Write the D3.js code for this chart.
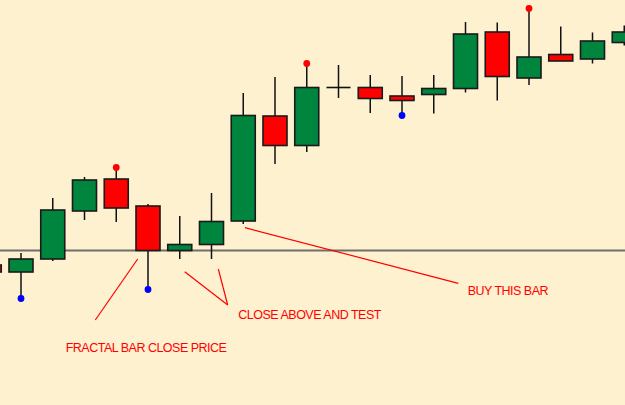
<!DOCTYPE html>
<html>
<head>
<meta charset="utf-8">
<script src="https://cdn.jsdelivr.net/npm/d3@7"></script>
<style>
  html, body { margin: 0; padding: 0; background: #fef1cf; overflow: hidden; }
  svg { display: block; }
</style>
</head>
<body>
<svg id="chart" width="625" height="405"></svg>
<script>
// ---- data (bar index, OHLC) ----
const bars   = [-1, 0, 1, 2, 3, 4, 5, 6, 7, 8, 9, 10, 11, 12, 13, 14, 15, 16, 17, 18, 19];
const opens  = [1.3140, 1.3133, 1.3146, 1.3194, 1.3226, 1.3199, 1.31545, 1.31605, 1.3184, 1.3289, 1.32595, 1.33175, 1.33175, 1.3309, 1.33105, 1.33165, 1.3373, 1.3327, 1.33505, 1.3346, 1.33625];
const highs  = [1.3144, 1.3152, 1.3207, 1.3228, 1.3235, 1.3201, 1.3189, 1.3212, 1.3312, 1.3328, 1.3339, 1.3340, 1.3330, 1.3329, 1.3330, 1.3383, 1.33825, 1.3394, 1.33785, 1.33725, 1.33795];
const lows   = [1.3128, 1.3109, 1.3144, 1.3185, 1.3183, 1.3118, 1.3146, 1.3146, 1.3181, 1.3241, 1.3253, 1.3307, 1.3292, 1.3292, 1.32915, 1.33125, 1.33045, 1.3320, 1.3344, 1.33415, 1.33595];
const closes = [1.3133, 1.3146, 1.3195, 1.3225, 1.3197, 1.31545, 1.31605, 1.31835, 1.32895, 1.32595, 1.33175, 1.33175, 1.33065, 1.33045, 1.33165, 1.3371, 1.33285, 1.3348, 1.3344, 1.3364, 1.3373];
const fractalsUp   = [3, 9, 16];
const fractalsDown = [0, 4, 12];
const fractalBar = 4;   // the level line sits at this bar's close
const labels = ["FRACTAL BAR CLOSE PRICE", "CLOSE ABOVE AND TEST", "BUY THIS BAR"];

// ---- layout ----
const W = 625, H = 405;
const svg = d3.select("#chart");
svg.append("rect").attr("width", W).attr("height", H).attr("fill", "#fef1cf");

const x = d3.scaleLinear().domain([0, 19]).range([21, 624.25]);
const y = d3.scaleLinear().domain([1.3000, 1.3405]).range([405, 0]);
const bodyW = 24;
const GREEN = "#00853e", RED = "#ff0000";

const data = bars.map((b, i) => ({ b, o: opens[i], h: highs[i], l: lows[i], c: closes[i] }));

// level line
svg.append("line")
  .attr("x1", 0).attr("x2", W)
  .attr("y1", y(closes[bars.indexOf(fractalBar)])).attr("y2", y(closes[bars.indexOf(fractalBar)]))
  .attr("stroke", "#6e6e6e").attr("stroke-width", 2);

const g = svg.append("g");
// wicks
g.selectAll("line.wick").data(data).join("line")
  .attr("class", "wick")
  .attr("x1", d => x(d.b)).attr("x2", d => x(d.b))
  .attr("y1", d => y(d.h)).attr("y2", d => y(d.l))
  .attr("stroke", "#111").attr("stroke-width", 1.5);

// bodies
g.selectAll("rect.body").data(data.filter(d => d.o !== d.c)).join("rect")
  .attr("class", "body")
  .attr("x", d => x(d.b) - bodyW / 2)
  .attr("width", bodyW)
  .attr("y", d => y(Math.max(d.o, d.c)))
  .attr("height", d => Math.abs(y(d.o) - y(d.c)))
  .attr("fill", d => d.c > d.o ? GREEN : RED)
  .attr("stroke", "#1a1a1a").attr("stroke-width", 1.6);

// doji
g.selectAll("line.doji").data(data.filter(d => d.o === d.c)).join("line")
  .attr("class", "doji")
  .attr("x1", d => x(d.b) - bodyW / 2).attr("x2", d => x(d.b) + bodyW / 2)
  .attr("y1", d => y(d.o)).attr("y2", d => y(d.o))
  .attr("stroke", "#111").attr("stroke-width", 1.6);

// fractal dots
g.selectAll("circle.up").data(fractalsUp).join("circle")
  .attr("cx", b => x(b)).attr("cy", b => y(highs[bars.indexOf(b)]) - 2.5)
  .attr("r", 3.4).attr("fill", RED);
g.selectAll("circle.dn").data(fractalsDown).join("circle")
  .attr("cx", b => x(b)).attr("cy", b => y(lows[bars.indexOf(b)]) + 2.5)
  .attr("r", 3.4).attr("fill", "#0000ff");

// annotations
const ann = svg.append("g").attr("stroke", RED).attr("stroke-width", 1.2);
const annLines = [
  [137.7, 259, 95.3, 320],
  [184.7, 271.7, 227.7, 305],
  [218.3, 269, 227.7, 305],
  [245, 227.7, 458.3, 283.3]
];
ann.selectAll("line").data(annLines).join("line")
  .attr("x1", d => d[0]).attr("y1", d => d[1]).attr("x2", d => d[2]).attr("y2", d => d[3]);

const textPos = [[65.7, 351.5], [238.3, 319.3], [467.7, 295.3]];
svg.selectAll("text.ann").data(labels).join("text")
  .attr("class", "ann")
  .attr("x", (d, i) => textPos[i][0]).attr("y", (d, i) => textPos[i][1])
  .attr("fill", RED)
  .attr("font-family", "Liberation Sans, Arial, sans-serif")
  .attr("font-size", 12.5)
  .attr("letter-spacing", -0.5)
  .text(d => d);
</script>
</body>
</html>
